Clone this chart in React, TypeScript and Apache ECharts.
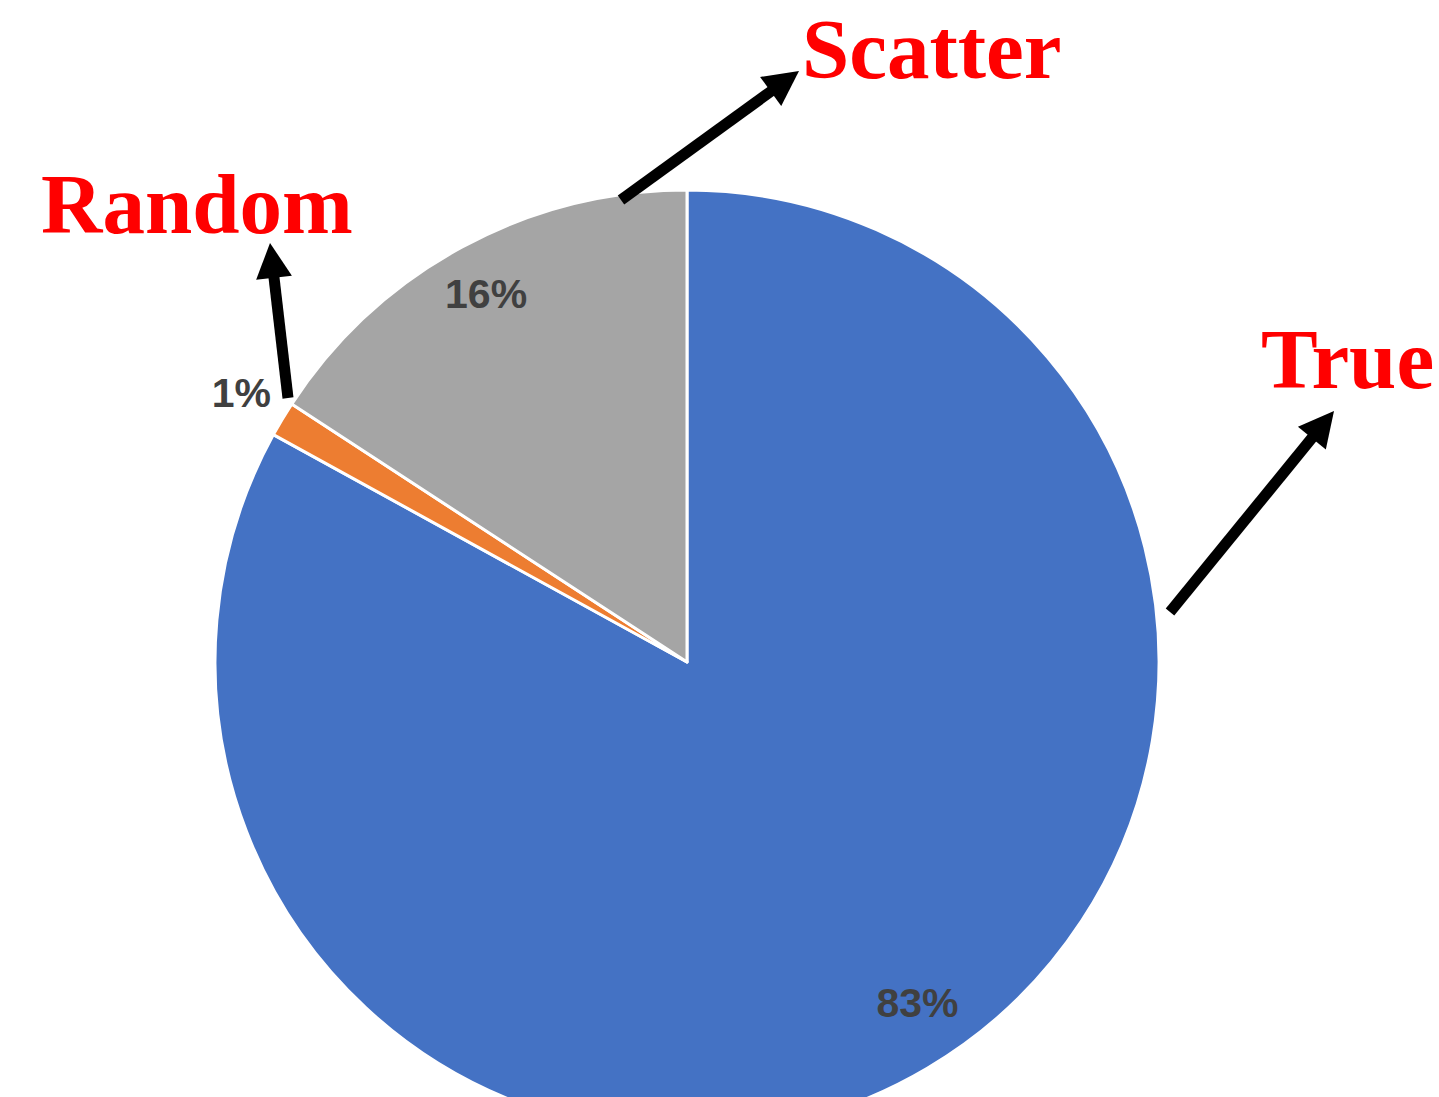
import React, { useEffect, useRef } from "react";
import * as echarts from "echarts";

// ---- data ----
const categories = ["True", "Random", "Scatter"];
const shares = [83.0, 1.2, 15.8];

// ---- styles ----
const sliceColors = ["#4472C4", "#ED7D31", "#A5A5A5"];
const W = 1439;
const H = 1097;
const CX = 687;
const CY = 662;
const R = 472;

// label nudges (px) relative to the library's inside position
const labelNudge = [
  [20, -15],
  [-91, -56],
  [-4, -4],
];

function arrow(tail: number[], tip: number[]) {
  const headLen = 35;
  const halfW = 18;
  const vx = tip[0] - tail[0];
  const vy = tip[1] - tail[1];
  const len = Math.sqrt(vx * vx + vy * vy);
  const ux = vx / len;
  const uy = vy / len;
  const px = -uy;
  const py = ux;
  const bx = tip[0] - ux * headLen;
  const by = tip[1] - uy * headLen;
  return [
    {
      type: "line",
      shape: { x1: tail[0], y1: tail[1], x2: bx + ux * 2, y2: by + uy * 2 },
      style: { stroke: "#000", lineWidth: 11, lineCap: "butt" },
      z: 100,
    },
    {
      type: "polygon",
      shape: {
        points: [
          [tip[0], tip[1]],
          [bx + px * halfW, by + py * halfW],
          [bx - px * halfW, by - py * halfW],
        ],
      },
      style: { fill: "#000" },
      z: 100,
    },
  ];
}

const annotations = [
  { text: "Scatter", x: 802, y: 49, tail: [621, 200], tip: [799, 71] },
  { text: "Random", x: 41, y: 204, tail: [288, 398], tip: [270, 243] },
  { text: "True", x: 1261, y: 359, tail: [1170, 612], tip: [1334, 411] },
];

export default function App() {
  const ref = useRef<HTMLDivElement>(null);
  useEffect(() => {
    if (!ref.current) return;
    const chart = echarts.init(ref.current, undefined, { renderer: "svg" });
    const data = categories.map((name, i) => ({
      name,
      value: shares[i],
      itemStyle: { color: sliceColors[i] },
    }));
    const graphics: any[] = [];
    annotations.forEach((a) => {
      graphics.push({
        type: "text",
        x: a.x,
        y: a.y,
        z: 100,
        style: {
          text: a.text,
          fill: "#FF0000",
          font: 'bold 85px "Liberation Serif", "Times New Roman", serif',
          align: "left",
          verticalAlign: "middle",
        },
      });
      arrow(a.tail, a.tip).forEach((g) => graphics.push(g));
    });
    chart.setOption({
      animation: false,
      backgroundColor: "#ffffff",
      series: [
        {
          type: "pie",
          center: [CX, CY],
          radius: [0, R],
          startAngle: 90,
          clockwise: true,
          avoidLabelOverlap: false,
          silent: true,
          data,
          itemStyle: { borderColor: "#ffffff", borderWidth: 3 },
          label: { show: false },
          labelLine: { show: false },
        },
        {
          type: "pie",
          center: [CX, CY],
          radius: [349, R],
          startAngle: 90,
          clockwise: true,
          avoidLabelOverlap: false,
          silent: true,
          z: 5,
          data: categories.map((name, i) => ({ name, value: shares[i] })),
          itemStyle: { color: "rgba(0,0,0,0)", borderWidth: 0 },
          label: {
            show: true,
            position: "inside",
            formatter: (p: any) => Math.round(p.percent) + "%",
            color: "#404040",
            fontFamily: '"Liberation Sans", Arial, sans-serif',
            fontWeight: "bold",
            fontSize: 41,
          },
          labelLine: { show: false },
          labelLayout: (p: any) => ({
            dx: labelNudge[p.dataIndex][0],
            dy: labelNudge[p.dataIndex][1],
          }),
        },
      ],
      graphic: graphics,
    });
    return () => chart.dispose();
  }, []);
  return (
    <div
      ref={ref}
      style={{ position: "absolute", left: 0, top: 0, width: W, height: H }}
    />
  );
}
